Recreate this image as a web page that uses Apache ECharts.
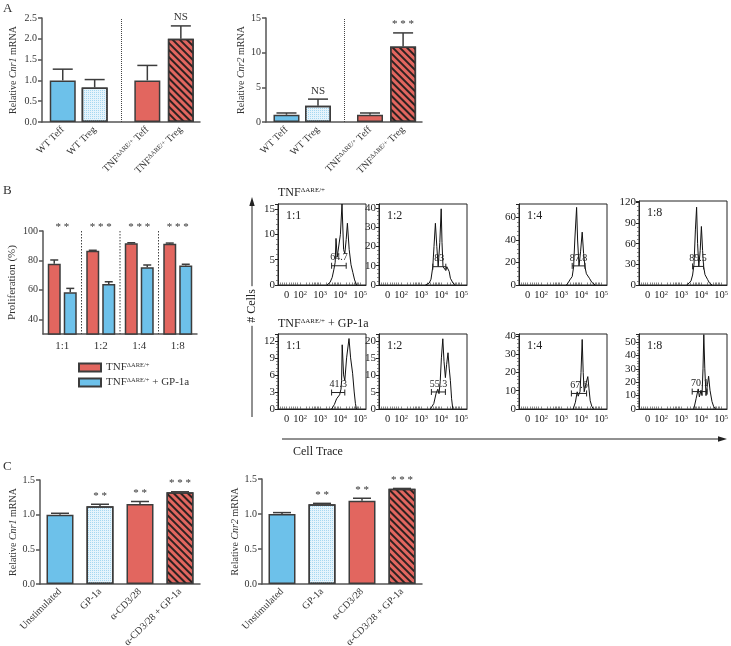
<!DOCTYPE html>
<html lang="en">
<head>
<meta charset="UTF-8">
<title>Cnr1 / Cnr2 expression and suppression</title>
<script src="https://cdn.jsdelivr.net/npm/echarts@6/dist/echarts.min.js"></script>
<style>
    *{margin:0;padding:0;}
    html,body{width:100%;height:100%;background:#fff;}
    .container{width:731px;height:646px;}
</style>
</head>
<body>
<div class="container"></div>
<script>
// ---------- data ----------
// panel A
let aLabels = ['WT Teff', 'WT Treg', 'TNF{s|ΔARE/+} Teff', 'TNF{s|ΔARE/+} Treg'];
let aCnr1 = [1.0, 0.83, 1.0, 2.0];
let aCnr1Err = [0.27, 0.19, 0.36, 0.31];
let aCnr1Sig = ['', '', '', 'NS'];
let aCnr2 = [1.05, 2.35, 1.05, 10.9];
let aCnr2Err = [0.25, 0.95, 0.25, 1.95];
let aCnr2Sig = ['', 'NS', '', '* * *'];

// panel B bars
let bRatios = ['1:1', '1:2', '1:4', '1:8'];
let bTnf = [77.8, 86.6, 91.6, 91.3];
let bTnfErr = [2.5, 0.3, 0.4, 0.5];
let bGp = [58.3, 64.0, 75.4, 76.5];
let bGpErr = [2.7, 1.5, 1.5, 0.9];
let bSig = ['* *', '* * *', '* * *', '* * *'];

// panel B histograms: [display position (log decades), cell count]
let tnfH11 = [[3.34,0],[3.50,0.5],[3.61,1.5],[3.69,3],[3.76,4.5],[3.80,9.2],[3.86,5.5],[3.94,5.3],[4.02,10],[4.10,16],[4.18,7],[4.24,6.2],[4.31,9],[4.37,12.2],[4.46,7],[4.55,4],[4.64,2.5],[4.73,1],[4.83,0]];
let tnfH12 = [[3.22,0],[3.41,1],[3.50,3],[3.59,9.5],[3.65,20],[3.72,32],[3.79,20],[3.86,9.5],[3.94,22],[4.01,39.5],[4.05,22],[4.10,9.5],[4.17,8.5],[4.24,7.5],[4.29,9.5],[4.34,10.2],[4.41,7],[4.47,3.5],[4.60,1],[4.72,0]];
let tnfH14 = [[3.27,0],[3.36,2],[3.44,4.5],[3.56,7.5],[3.63,16],[3.69,40],[3.78,69],[3.83,40],[3.90,17],[3.98,30],[4.06,47],[4.13,28],[4.20,16],[4.27,10],[4.34,10],[4.42,6],[4.54,2.4],[4.71,0]];
let tnfH18 = [[3.28,0],[3.41,3],[3.50,6],[3.58,14.5],[3.65,30],[3.72,80],[3.78,113],[3.83,60],[3.89,27],[3.96,50],[4.02,85],[4.08,50],[4.13,27],[4.20,15],[4.27,14.5],[4.33,8],[4.42,3],[4.55,0]];
let gpH11 = [[3.58,0],[3.72,0.8],[3.83,1.8],[3.91,2],[3.98,2.5],[4.05,3.5],[4.08,5],[4.11,11.3],[4.18,6],[4.24,5],[4.33,9],[4.45,12.4],[4.53,9],[4.63,6.3],[4.71,3],[4.77,1],[4.82,0]];
let gpH12 = [[3.47,0],[3.64,1.6],[3.76,4.7],[3.84,5.8],[3.90,4.5],[3.96,8],[4.02,15],[4.09,20.6],[4.15,14],[4.22,9.2],[4.28,13],[4.35,16.5],[4.41,12],[4.47,8.3],[4.53,3],[4.59,0]];
let gpH14 = [[3.61,0],[3.72,3.7],[3.81,9.4],[3.86,7],[3.90,8.2],[3.95,9.4],[4.00,20],[4.06,38],[4.11,20],[4.16,9.4],[4.25,14],[4.34,17.7],[4.40,11],[4.46,4.5],[4.54,1.5],[4.62,0]];
let gpH18 = [[3.64,0],[3.76,8],[3.86,15],[3.92,9],[4.00,14],[4.05,10],[4.10,30],[4.14,55.5],[4.19,30],[4.25,10],[4.32,18],[4.38,24.5],[4.45,14],[4.55,5.5],[4.63,2],[4.72,0]];
// gates: [from, to, height, % divided]
let tnfGates = [[3.58,4.31,3.8,'64.7'], [3.59,4.24,9.5,'83'], [3.56,4.20,17,'87.8'], [3.58,4.13,27,'89.5']];
let gpGates = [[3.58,4.24,2.9,'41.3'], [3.52,4.22,5,'55.3'], [3.52,4.28,8.5,'67.6'], [3.56,4.31,13,'70.1']];
let flowTickVals = [1.33, 2, 3, 4, 5];
let flowTickText = ['0', '10{s|2}', '10{s|3}', '10{s|4}', '10{s|5}'];

// panel C
let cLabels = ['Unstimulated', 'GP-1a', 'α-CD3/28', 'α-CD3/28 + GP-1a'];
let cCnr1 = [1.0, 1.12, 1.155, 1.325];
let cCnr1Err = [0.02, 0.03, 0.035, 0.005];
let cCnr2 = [1.0, 1.14, 1.19, 1.36];
let cCnr2Err = [0.02, 0.012, 0.035, 0.005];
let cSig = ['', '* *', '* *', '* * *'];

// ---------- styles ----------
const FONT = "'Liberation Serif', 'DejaVu Serif', serif";
const INK = '#333';
const AXIS = '#555';
const EDGE = '#3c3c3c';
const BLUE = '#6dc1ea';
const RED = '#e2665f';
const SUP = {fontSize: 6.5, verticalAlign: 'top', lineHeight: 9, fontFamily: FONT, color: INK};

let solidBlue = {color: BLUE, borderColor: EDGE, borderWidth: 1.5};
let dottedBlue = {color: '#e6f4fc', borderColor: EDGE, borderWidth: 1.5,
    decal: {symbol: 'rect', color: '#a6d8f1', symbolSize: 1, dashArrayX: [1, 1], dashArrayY: [1, 1], rotation: 0}};
let solidRed = {color: RED, borderColor: EDGE, borderWidth: 1.5};
let stripedRed = {color: RED, borderColor: EDGE, borderWidth: 1.5,
    decal: {symbol: 'rect', color: 'rgba(25,25,25,0.9)', symbolSize: 1, dashArrayX: [1, 0], dashArrayY: [2, 2.4], rotation: Math.PI / 4}};
let fourStyles = [solidBlue, dottedBlue, solidRed, stripedRed];

let grids = [], xAxes = [], yAxes = [], series = [], graphics = [];

function txt(text, size, align, valign, extra) {
    return Object.assign({text: text, fontSize: size, fontFamily: FONT, fill: INK,
        align: align, verticalAlign: valign, textAlign: align, textVerticalAlign: valign}, extra || {});
}

function addGrid(left, top, width, height, extra) {
    grids.push(Object.assign({left: left, top: top, width: width, height: height,
        containLabel: false, outerBoundsMode: 'none'}, extra || {}));
    return grids.length - 1;
}

function yName(gene) {
    return {
        name: '{n|Relative }{i|' + gene + '}{n| mRNA}',
        nameLocation: 'middle', nameRotate: 90,
        nameTextStyle: {rich: {
            n: {fontSize: 10, fontFamily: FONT, color: INK},
            i: {fontSize: 10, fontFamily: FONT, color: INK, fontStyle: 'italic'}
        }}
    };
}

function barYAxis(g, max, interval, digits, extra) {
    return Object.assign({
        type: 'value', gridIndex: g, min: 0, max: max, interval: interval,
        splitLine: {show: false},
        axisLine: {show: true, lineStyle: {color: AXIS, width: 1.5}},
        axisTick: {show: true, length: 4, lineStyle: {color: AXIS, width: 1.5}},
        axisLabel: {fontSize: 10, color: INK, fontFamily: FONT, margin: 5, formatter: v => v.toFixed(digits)}
    }, extra);
}

function errorBars(g, xs, vals, errs, sigs, cap, dx) {
    return {
        type: 'custom', xAxisIndex: g, yAxisIndex: g, silent: true, z: 5,
        data: vals.map((v, i) => [xs[i], v, errs[i]]),
        renderItem: function (params, api) {
            let base = api.coord([api.value(0), api.value(1)]);
            let top = api.coord([api.value(0), api.value(1) + api.value(2)]);
            let x = base[0] + (dx || 0);
            let kids = [
                {type: 'line', shape: {x1: x, y1: base[1], x2: x, y2: top[1]}, style: {stroke: EDGE, lineWidth: 1.5}},
                {type: 'line', shape: {x1: x - cap / 2, y1: top[1], x2: x + cap / 2, y2: top[1]}, style: {stroke: EDGE, lineWidth: 1.5}}
            ];
            let s = sigs ? sigs[params.dataIndex] : '';
            if (s) kids.push({type: 'text', x: x, y: top[1] - 3, style: txt(s, 11, 'center', 'bottom')});
            return {type: 'group', children: kids};
        }
    };
}

// ---------- panel A ----------
let aPos = [0.65, 1.65, 3.3, 4.35];
function panelA(left, width, vals, errs, sigs, max, interval, digits, gene, nameGap) {
    let g = addGrid(left, 18, width, 104);
    xAxes.push({
        type: 'value', gridIndex: g, min: 0, max: 4.95, splitLine: {show: false},
        axisLine: {show: true, lineStyle: {color: AXIS, width: 1.5}}, axisTick: {show: false},
        axisLabel: {customValues: aPos, rotate: 45, margin: 6, fontSize: 10, color: INK, fontFamily: FONT, hideOverlap: false,
            formatter: v => aLabels[aPos.findIndex(p => Math.abs(p - v) < 1e-6)] || '', rich: {s: SUP}}
    });
    yAxes.push(barYAxis(g, max, interval, digits, Object.assign(yName(gene), {nameGap: nameGap})));
    series.push({
        type: 'bar', xAxisIndex: g, yAxisIndex: g, barWidth: 26, silent: true,
        data: vals.map((v, i) => ({value: [aPos[i], v], itemStyle: fourStyles[i]})),
        markLine: {silent: true, symbol: ['none', 'none'], label: {show: false},
            lineStyle: {type: 'dotted', color: '#444', width: 1}, data: [{xAxis: 2.47}]}
    });
    series.push(errorBars(g, aPos, vals, errs, sigs, 20));
}
panelA(42, 158, aCnr1, aCnr1Err, aCnr1Sig, 2.5, 0.5, 1, 'Cnr1', 24);
panelA(266, 156, aCnr2, aCnr2Err, aCnr2Sig, 15, 5, 0, 'Cnr2', 20);

// ---------- panel B bars ----------
let gB = addGrid(43, 231, 154, 103);
xAxes.push({
    type: 'category', gridIndex: gB, data: bRatios,
    axisLine: {show: true, lineStyle: {color: AXIS, width: 1.5}}, axisTick: {show: false},
    axisLabel: {fontSize: 11, color: INK, fontFamily: FONT, margin: 7}
});
yAxes.push({
    type: 'value', gridIndex: gB, min: 30, max: 100,
    name: 'Proliferation (%)', nameLocation: 'middle', nameRotate: 90, nameGap: 25,
    nameTextStyle: {fontSize: 11, fontFamily: FONT, color: INK},
    splitLine: {show: false},
    axisLine: {show: true, lineStyle: {color: AXIS, width: 1.5}},
    axisTick: {show: true, length: 4, customValues: [40, 60, 80, 100], lineStyle: {color: AXIS, width: 1.5}},
    axisLabel: {customValues: [40, 60, 80, 100], fontSize: 10, color: INK, fontFamily: FONT, margin: 5}
});
let bIdx = bRatios.map((r, i) => i);
series.push({type: 'bar', name: 'tnf', xAxisIndex: gB, yAxisIndex: gB, data: bTnf, barWidth: 13, barGap: '23%', itemStyle: solidRed});
series.push({type: 'bar', name: 'gp', xAxisIndex: gB, yAxisIndex: gB, data: bGp, barWidth: 13, barGap: '23%', itemStyle: solidBlue});
series.push(errorBars(gB, bIdx, bTnf, bTnfErr, null, 8, -8));
series.push(errorBars(gB, bIdx, bGp, bGpErr, null, 8, 8));
series.push({
    type: 'custom', xAxisIndex: gB, yAxisIndex: gB, silent: true, z: 4,
    data: bIdx.map(i => [i]),
    renderItem: function (params, api) {
        let i = api.value(0);
        let top = api.coord([i, 100]);
        let bottom = api.coord([i, 30]);
        let bw = api.size([1, 0])[0];
        let kids = [{type: 'text', x: top[0], y: top[1] + 2, style: txt(bSig[params.dataIndex], 11, 'center', 'bottom')}];
        if (i > 0) kids.push({type: 'line', shape: {x1: top[0] - bw / 2, y1: top[1], x2: top[0] - bw / 2, y2: bottom[1]},
            style: {stroke: '#444', lineWidth: 1, lineDash: [1.5, 1.5]}});
        return {type: 'group', children: kids};
    }
});

// ---------- panel B histograms ----------
let flowLeft = [278, 379, 519, 639];
let flowPlots = [
    {data: tnfH11, gate: tnfGates[0], max: 16, step: 5, row: 0, col: 0},
    {data: tnfH12, gate: tnfGates[1], max: 42, step: 10, row: 0, col: 1},
    {data: tnfH14, gate: tnfGates[2], max: 72, step: 20, row: 0, col: 2},
    {data: tnfH18, gate: tnfGates[3], max: 122, step: 30, row: 0, col: 3},
    {data: gpH11, gate: gpGates[0], max: 13.2, step: 3, row: 1, col: 0},
    {data: gpH12, gate: gpGates[1], max: 22, step: 5, row: 1, col: 1},
    {data: gpH14, gate: gpGates[2], max: 41, step: 10, row: 1, col: 2},
    {data: gpH18, gate: gpGates[3], max: 56, step: 10, row: 1, col: 3}
];
let flowTicks = [1.0, 1.1, 1.2, 1.33, 1.45, 1.55, 1.65, 1.75, 1.85];
for (let d = 2; d < 5; d++) for (let k of [1, 2, 3, 4, 5, 6, 7, 8]) flowTicks.push(d + Math.log10(k));
flowTicks.push(5, 5 + Math.log10(2));

flowPlots.forEach(p => {
    let top = p.row === 0 ? 204 : 334;
    let height = p.row === 0 ? 81 : 75;
    if (p.row === 0 && p.col === 3) { top = 201; height = 84; }
    let g = addGrid(flowLeft[p.col], top, 88, height, {show: true, borderColor: '#222', borderWidth: 1, backgroundColor: 'transparent'});
    xAxes.push({
        type: 'value', gridIndex: g, min: 0.9, max: 5.3, splitLine: {show: false},
        axisLine: {show: true, lineStyle: {color: '#222', width: 1}},
        axisTick: {show: true, inside: true, length: 2.5, customValues: flowTicks, lineStyle: {color: '#555', width: 0.7}},
        axisLabel: {customValues: flowTickVals, margin: 5, fontSize: 10.5, color: '#222', fontFamily: FONT, hideOverlap: false,
            formatter: v => flowTickText[flowTickVals.findIndex(t => Math.abs(t - v) < 1e-6)] || '', rich: {s: SUP}}
    });
    yAxes.push({
        type: 'value', gridIndex: g, min: 0, max: p.max, interval: p.step, splitLine: {show: false},
        axisLine: {show: true, lineStyle: {color: '#222', width: 1}},
        axisTick: {show: true, length: 3, lineStyle: {color: '#222'}},
        minorTick: {show: true, splitNumber: 5, length: 2, lineStyle: {color: '#555', width: 0.7}},
        axisLabel: {fontSize: 11, color: '#222', fontFamily: FONT, margin: 3, showMaxLabel: false, hideOverlap: false}
    });
    series.push({type: 'line', xAxisIndex: g, yAxisIndex: g, data: p.data, showSymbol: false, silent: true,
        lineStyle: {color: '#111', width: 1}});
    series.push({
        type: 'custom', xAxisIndex: g, yAxisIndex: g, silent: true, z: 6,
        data: [p.gate.slice(0, 3)],
        renderItem: function (params, api) {
            let a = api.coord([api.value(0), api.value(2)]);
            let b = api.coord([api.value(1), api.value(2)]);
            let st = {stroke: '#222', lineWidth: 1};
            return {type: 'group', children: [
                {type: 'line', shape: {x1: a[0], y1: a[1], x2: b[0], y2: b[1]}, style: st},
                {type: 'line', shape: {x1: a[0], y1: a[1] - 3, x2: a[0], y2: a[1] + 3}, style: st},
                {type: 'line', shape: {x1: b[0], y1: b[1] - 3, x2: b[0], y2: b[1] + 3}, style: st},
                {type: 'text', x: (a[0] + b[0]) / 2, y: a[1] - 3, style: txt(p.gate[3], 10, 'center', 'bottom', {fill: '#222'})}
            ]};
        }
    });
    graphics.push({type: 'text', x: flowLeft[p.col] + 8, y: top + 6,
        style: txt(bRatios[p.col], 12, 'left', 'top', {fill: '#222'})});
});

// ---------- panel C ----------
function panelC(left, top, height, vals, errs, gene, nameGap) {
    let g = addGrid(left, top, 160, height);
    xAxes.push({
        type: 'category', gridIndex: g, data: cLabels,
        axisLine: {show: true, lineStyle: {color: AXIS, width: 1.5}}, axisTick: {show: false},
        axisLabel: {rotate: 45, margin: 6, fontSize: 10, color: INK, fontFamily: FONT, interval: 0}
    });
    yAxes.push(barYAxis(g, 1.5, 0.5, 1, Object.assign(yName(gene), {nameGap: nameGap})));
    series.push({
        type: 'bar', xAxisIndex: g, yAxisIndex: g, barWidth: 27, silent: true,
        data: vals.map((v, i) => ({value: v, itemStyle: fourStyles[i]}))
    });
    series.push(errorBars(g, cLabels.map((c, i) => i), vals, errs, cSig, 18));
}
panelC(40, 480, 104, cCnr1, cCnr1Err, 'Cnr1', 22);
panelC(262, 479, 105, cCnr2, cCnr2Err, 'Cnr2', 15);

// ---------- annotations ----------
let sup7 = {fontSize: 7, verticalAlign: 'top', lineHeight: 9, fontFamily: FONT, fill: '#222'};
graphics.push(
    {type: 'text', x: 3, y: 2, style: txt('A', 13, 'left', 'top')},
    {type: 'text', x: 3, y: 184, style: txt('B', 13, 'left', 'top')},
    {type: 'text', x: 3, y: 460, style: txt('C', 13, 'left', 'top')},
    {type: 'text', x: 278, y: 193, style: txt('TNF{s|ΔARE/+}', 12, 'left', 'middle', {fill: '#222', rich: {s: sup7}})},
    {type: 'text', x: 278, y: 324, style: txt('TNF{s|ΔARE/+} + GP-1a', 12, 'left', 'middle', {fill: '#222', rich: {s: sup7}})},
    {type: 'line', shape: {x1: 252, y1: 417, x2: 252, y2: 204}, style: {stroke: '#222', lineWidth: 1}},
    {type: 'polygon', shape: {points: [[252, 197], [249.3, 206], [254.7, 206]]}, style: {fill: '#222'}},
    {type: 'text', x: 252, y: 306, rotation: Math.PI / 2,
        style: txt('# Cells', 12, 'center', 'middle', {fill: '#222', backgroundColor: '#fff', padding: [0, 3]})},
    {type: 'line', shape: {x1: 282, y1: 439, x2: 720, y2: 439}, style: {stroke: '#222', lineWidth: 1}},
    {type: 'polygon', shape: {points: [[727, 439], [718, 436.3], [718, 441.7]]}, style: {fill: '#222'}},
    {type: 'text', x: 293, y: 452, style: txt('Cell Trace', 12, 'left', 'middle', {fill: '#222'})}
);

let chart = echarts.init(document.querySelector('.container'));
let option = {
    animation: false,
    backgroundColor: '#fff',
    textStyle: {fontFamily: FONT},
    grid: grids,
    xAxis: xAxes,
    yAxis: yAxes,
    legend: {
        data: ['tnf', 'gp'], orient: 'vertical', left: 78, top: 362, itemWidth: 22, itemHeight: 8, itemGap: 4,
        icon: 'rect', selectedMode: false, padding: 0,
        formatter: n => n === 'tnf' ? 'TNF{s|ΔARE/+}' : 'TNF{s|ΔARE/+} + GP-1a',
        textStyle: {fontSize: 11, fontFamily: FONT, color: INK, rich: {s: SUP}}
    },
    graphic: graphics,
    series: series
};
chart.setOption(option);
</script>
</body>
</html>
